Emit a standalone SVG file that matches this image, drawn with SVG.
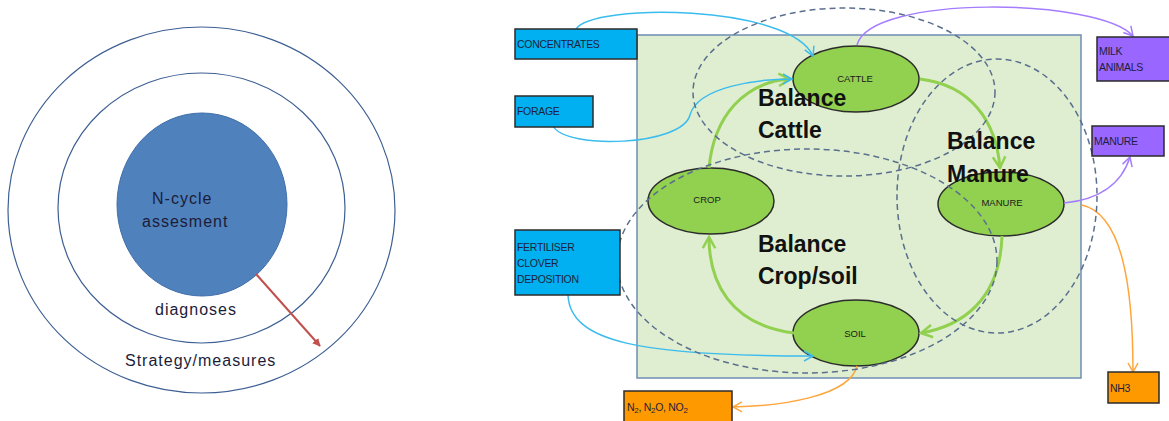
<svg xmlns="http://www.w3.org/2000/svg" width="1169" height="421" viewBox="0 0 1169 421">
<defs>
<style>
.ring{fill:none;stroke:#3d5f93;stroke-width:1.2}
.lbl{font-family:"Liberation Sans",Arial,sans-serif;font-size:16px;fill:#1c1c38;letter-spacing:1px}
.node{fill:#92d050;stroke:#2b2b2b;stroke-width:1.5}
.ntxt{font-family:"Liberation Sans",Arial,sans-serif;font-size:9.5px;fill:#1a1a1a;text-anchor:middle}
.box{stroke:#2b2b2b;stroke-width:1.5}
.btxt{font-family:"Liberation Sans",Arial,sans-serif;font-size:10.5px;fill:#1e1e3c;letter-spacing:-0.3px}
.bal{font-family:"Liberation Sans",Arial,sans-serif;font-size:23px;font-weight:bold;fill:#111}
.dash{fill:none;stroke:#5a6f8e;stroke-width:1.5;stroke-dasharray:6 4}
.g{fill:none;stroke:#92d050;stroke-width:3}
.b{fill:none;stroke:#3bbcee;stroke-width:1.5}
.p{fill:none;stroke:#a47dff;stroke-width:1.5}
.o{fill:none;stroke:#ffa53a;stroke-width:1.5}
</style>
<marker id="mg" viewBox="0 0 12 12" refX="10" refY="6" markerWidth="5" markerHeight="5" orient="auto" markerUnits="strokeWidth"><path d="M1,1 L10,6 L1,11" fill="none" stroke="#92d050" stroke-width="2"/></marker>
<marker id="mb" viewBox="0 0 12 12" refX="10" refY="6" markerWidth="8" markerHeight="8" orient="auto" markerUnits="strokeWidth"><path d="M1,1 L10,6 L1,11" fill="none" stroke="#3bbcee" stroke-width="1.5"/></marker>
<marker id="mp" viewBox="0 0 12 12" refX="10" refY="6" markerWidth="8" markerHeight="8" orient="auto" markerUnits="strokeWidth"><path d="M1,1 L10,6 L1,11" fill="none" stroke="#a47dff" stroke-width="1.5"/></marker>
<marker id="mo" viewBox="0 0 12 12" refX="10" refY="6" markerWidth="8" markerHeight="8" orient="auto" markerUnits="strokeWidth"><path d="M1,1 L10,6 L1,11" fill="none" stroke="#ffa53a" stroke-width="1.5"/></marker>
<marker id="mr" viewBox="0 0 10 10" refX="9" refY="5" markerWidth="4" markerHeight="4" orient="auto" markerUnits="strokeWidth"><path d="M0,0 L10,5 L0,10 Z" fill="#c0504d"/></marker>
</defs>
<rect width="1169" height="421" fill="#ffffff"/>

<!-- Left: concentric assessment diagram -->
<g id="left-rings">
<ellipse class="ring" cx="201.5" cy="210" rx="193.5" ry="183"/>
<ellipse class="ring" cx="201.5" cy="208" rx="143.5" ry="135"/>
</g>
<g id="ncycle">
<ellipse cx="202" cy="204.5" rx="85" ry="91.5" fill="#4f81bd" stroke="#3f6ea8" stroke-width="1"/>
<text class="lbl" x="152" y="204">N-cycle</text>
<text class="lbl" x="142" y="227">assesment</text>
</g>
<g id="diagnoses"><text class="lbl" x="155" y="315" letter-spacing="0.8">diagnoses</text></g>
<g id="strategy"><text class="lbl" x="125" y="366">Strategy/measures</text></g>
<g id="left-connector">
<line x1="256" y1="274" x2="320" y2="346" stroke="#c0504d" stroke-width="2" marker-end="url(#mr)"/>
</g>

<!-- Right: farm N balance diagram -->
<g id="farm"><rect x="637" y="35" width="444" height="343" fill="#dfeed0" stroke="#6f8db3" stroke-width="1.5"/></g>

<g id="cattle"><ellipse class="node" cx="856" cy="79" rx="63" ry="33"/><text class="ntxt" x="855" y="82">CATTLE</text></g>
<g id="crop"><ellipse class="node" cx="711" cy="201" rx="63" ry="33"/><text class="ntxt" x="707" y="203">CROP</text></g>
<g id="manure"><ellipse class="node" cx="1001" cy="204" rx="63" ry="32"/><text class="ntxt" x="1002" y="206">MANURE</text></g>
<g id="soil"><ellipse class="node" cx="856" cy="333" rx="63" ry="33"/><text class="ntxt" x="855" y="337">SOIL</text></g>

<g id="connectors">
<path class="g" d="M709,168 C714,115 745,82 790,79" marker-end="url(#mg)"/>
<path class="g" d="M920,79 C970,85 996,120 1000,168" marker-end="url(#mg)"/>
<path class="g" d="M1002,236 C1000,300 962,326 921,333" marker-end="url(#mg)"/>
<path class="g" d="M794,333 C730,325 709,282 709,237" marker-end="url(#mg)"/>
<path class="b" d="M576,29 C592,3 790,4 813,56" marker-end="url(#mb)"/>
<path class="b" d="M553,126 C566,150 682,146 690,115 C698,86 760,79 792,79" marker-end="url(#mb)"/>
<path class="b" d="M568,295 C570,342 640,356 813,356" marker-end="url(#mb)"/>
<path class="p" d="M857,45 C870,-6 1100,-2 1133,36" marker-end="url(#mp)"/>
<path class="p" d="M1064,203 C1096,200 1121,186 1130,157" marker-end="url(#mp)"/>
<path class="o" d="M1082,205 C1121,214 1133,282 1133,372" marker-end="url(#mo)"/>
<path class="o" d="M857,366 C850,396 782,406 733,407" marker-end="url(#mo)"/>
</g>

<g id="balance-areas">
<ellipse class="dash" cx="844" cy="92" rx="151" ry="84"/>
<ellipse class="dash" cx="997" cy="196" rx="100" ry="137"/>
<ellipse class="dash" cx="807" cy="261" rx="190" ry="112"/>
</g>

<g id="balance-cattle"><text class="bal" x="758" y="106">Balance</text><text class="bal" x="758" y="138">Cattle</text></g>
<g id="balance-manure"><text class="bal" x="947" y="149">Balance</text><text class="bal" x="947" y="182">Manure</text></g>
<g id="balance-cropsoil"><text class="bal" x="758" y="252">Balance</text><text class="bal" x="758" y="284">Crop/soil</text></g>

<g id="concentrates"><rect class="box" x="515" y="29" width="122" height="30" fill="#00b0f0"/><text class="btxt" x="517" y="48">CONCENTRATES</text></g>
<g id="forage"><rect class="box" x="515" y="96" width="78" height="31" fill="#00b0f0"/><text class="btxt" x="517" y="115">FORAGE</text></g>
<g id="fertiliser"><rect class="box" x="515" y="230" width="105" height="65" fill="#00b0f0"/><text class="btxt" x="517" y="251">FERTILISER</text><text class="btxt" x="517" y="267">CLOVER</text><text class="btxt" x="517" y="283">DEPOSITION</text></g>
<g id="milk"><rect class="box" x="1097" y="37" width="75" height="44" fill="#9966ff"/><text class="btxt" x="1099" y="55">MILK</text><text class="btxt" x="1099" y="71">ANIMALS</text></g>
<g id="manure-out"><rect class="box" x="1092" y="126" width="72" height="30" fill="#9966ff"/><text class="btxt" x="1094" y="145">MANURE</text></g>
<g id="nh3"><rect class="box" x="1108" y="372" width="51" height="31" fill="#ff9900"/><text class="btxt" x="1110" y="392">NH3</text></g>
<g id="n-gases"><rect class="box" x="624" y="391" width="108" height="35" fill="#ff9900"/><text class="btxt" x="627" y="411" font-size="11.5px">N<tspan font-size="8" dy="2">2</tspan><tspan dy="-2">, N</tspan><tspan font-size="8" dy="2">2</tspan><tspan dy="-2">O, NO</tspan><tspan font-size="8" dy="2">2</tspan></text></g>
</svg>
